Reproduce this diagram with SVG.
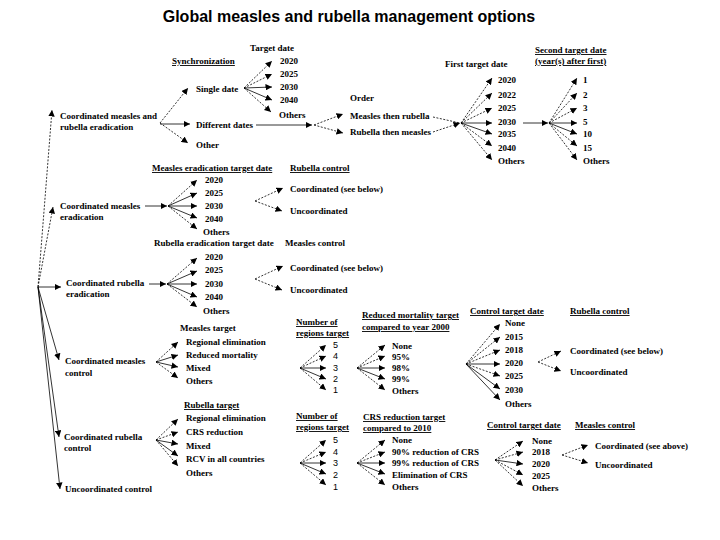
<svg xmlns="http://www.w3.org/2000/svg" width="720" height="540" viewBox="0 0 720 540">
<defs>
<marker id="a" viewBox="0 0 10 10" refX="10" refY="5" markerWidth="6.5" markerHeight="6.5" markerUnits="userSpaceOnUse" orient="auto"><path d="M0,0 L10,5 L0,10 z" fill="#000"/></marker>
<style>
.t{font-family:"Liberation Serif","Times New Roman",serif;font-size:9px;font-weight:bold;fill:#000}
.n{font-family:"Liberation Sans",Arial,sans-serif;font-size:9px;fill:#000}
.u{text-decoration:underline}
.title{font-family:"Liberation Sans",Arial,sans-serif;font-size:16px;font-weight:bold;fill:#000}
#connectors line{stroke:#000;stroke-width:0.8;marker-end:url(#a)}
#connectors line.d{stroke-dasharray:2 1.5}
#connectors line.nm{marker-end:none}
</style>
</defs>
<rect width="720" height="540" fill="#fff"/>
<text class="title" x="349" y="22" text-anchor="middle">Global measles and rubella management options</text>

<g id="connectors">
<!-- root -->
<line class="d" x1="38" y1="287" x2="52" y2="110"/>
<line class="d" x1="38" y1="287" x2="53" y2="207"/>
<line x1="38" y1="287" x2="61" y2="287"/>
<line x1="38" y1="287" x2="59" y2="360"/>
<line x1="38" y1="287" x2="59" y2="437"/>
<line x1="38" y1="287" x2="60" y2="489"/>
<!-- section 1 -->
<line class="d" x1="160" y1="123" x2="188" y2="88"/>
<line x1="160" y1="124" x2="190" y2="124"/>
<line class="d" x1="160" y1="123" x2="188" y2="143"/>
<line class="d" x1="244" y1="88" x2="272" y2="61"/>
<line class="d" x1="244" y1="88" x2="272" y2="74"/>
<line x1="244" y1="88" x2="272" y2="87"/>
<line x1="244" y1="88" x2="272" y2="100"/>
<line class="d" x1="244" y1="88" x2="271" y2="112"/>
<line x1="256" y1="125" x2="312" y2="125"/>
<line class="d" x1="314" y1="125" x2="343" y2="114"/>
<line class="d" x1="314" y1="125" x2="343" y2="133"/>
<line class="d nm" x1="433" y1="117" x2="460" y2="123"/>
<line class="d" x1="433" y1="132" x2="460" y2="123"/>
<line class="d" x1="461" y1="123" x2="492" y2="78"/>
<line class="d" x1="461" y1="123" x2="492" y2="93"/>
<line class="d" x1="461" y1="123" x2="492" y2="108"/>
<line x1="461" y1="123" x2="492" y2="123"/>
<line x1="461" y1="123" x2="492" y2="134"/>
<line class="d" x1="461" y1="123" x2="492" y2="146"/>
<line class="d" x1="461" y1="123" x2="492" y2="160"/>
<line x1="523" y1="123" x2="548" y2="123"/>
<line class="d" x1="549" y1="123" x2="577" y2="78"/>
<line class="d" x1="549" y1="123" x2="577" y2="93"/>
<line class="d" x1="549" y1="123" x2="577" y2="108"/>
<line x1="549" y1="123" x2="577" y2="123"/>
<line x1="549" y1="123" x2="577" y2="134"/>
<line class="d" x1="549" y1="123" x2="577" y2="146"/>
<line class="d" x1="549" y1="123" x2="577" y2="160"/>
<!-- section 2 -->
<line x1="145" y1="206" x2="167" y2="206"/>
<line class="d" x1="168" y1="206" x2="197" y2="180"/>
<line x1="168" y1="206" x2="197" y2="193"/>
<line x1="168" y1="206" x2="197" y2="206"/>
<line x1="168" y1="206" x2="197" y2="218"/>
<line class="d" x1="168" y1="206" x2="197" y2="229"/>
<line class="d" x1="255" y1="201" x2="283" y2="188"/>
<line class="d" x1="255" y1="201" x2="282" y2="211"/>
<!-- section 3 -->
<line x1="149" y1="284" x2="166" y2="284"/>
<line class="d" x1="167" y1="284" x2="197" y2="258"/>
<line x1="167" y1="284" x2="197" y2="271"/>
<line x1="167" y1="284" x2="197" y2="284"/>
<line x1="167" y1="284" x2="197" y2="297"/>
<line class="d" x1="167" y1="284" x2="197" y2="307"/>
<line class="d" x1="255" y1="279" x2="283" y2="266"/>
<line class="d" x1="255" y1="279" x2="282" y2="290"/>
<!-- section 4 -->
<line class="d" x1="156" y1="362" x2="178" y2="342"/>
<line x1="156" y1="362" x2="178" y2="355"/>
<line x1="156" y1="362" x2="178" y2="367"/>
<line class="d" x1="156" y1="362" x2="178" y2="378"/>
<line class="d" x1="300" y1="368" x2="326" y2="345"/>
<line class="d" x1="300" y1="368" x2="326" y2="356"/>
<line x1="300" y1="368" x2="326" y2="368"/>
<line x1="300" y1="368" x2="326" y2="379"/>
<line class="d" x1="300" y1="368" x2="326" y2="390"/>
<line class="d" x1="357" y1="368" x2="385" y2="345"/>
<line class="d" x1="357" y1="368" x2="385" y2="356"/>
<line x1="357" y1="368" x2="385" y2="368"/>
<line x1="357" y1="368" x2="385" y2="379"/>
<line class="d" x1="357" y1="368" x2="385" y2="390"/>
<line class="d" x1="466" y1="364" x2="500" y2="324"/>
<line class="d" x1="466" y1="364" x2="500" y2="337"/>
<line class="d" x1="466" y1="364" x2="500" y2="350"/>
<line x1="466" y1="364" x2="500" y2="364"/>
<line class="d" x1="466" y1="364" x2="500" y2="376"/>
<line x1="466" y1="364" x2="500" y2="389"/>
<line x1="466" y1="364" x2="500" y2="400"/>
<line class="d" x1="538" y1="362" x2="561" y2="351"/>
<line class="d" x1="538" y1="362" x2="561" y2="371"/>
<!-- section 5 -->
<line class="d" x1="156" y1="440" x2="178" y2="419"/>
<line class="d" x1="156" y1="440" x2="178" y2="432"/>
<line x1="156" y1="440" x2="178" y2="444"/>
<line x1="156" y1="440" x2="178" y2="456"/>
<line class="d" x1="156" y1="440" x2="178" y2="466"/>
<line class="d" x1="300" y1="463" x2="326" y2="440"/>
<line class="d" x1="300" y1="463" x2="326" y2="452"/>
<line x1="300" y1="463" x2="326" y2="463"/>
<line x1="300" y1="463" x2="326" y2="474"/>
<line class="d" x1="300" y1="463" x2="326" y2="485"/>
<line class="d" x1="357" y1="463" x2="385" y2="440"/>
<line class="d" x1="357" y1="463" x2="385" y2="452"/>
<line x1="357" y1="463" x2="385" y2="463"/>
<line x1="357" y1="463" x2="385" y2="474"/>
<line class="d" x1="357" y1="463" x2="385" y2="485"/>
<line class="d" x1="495" y1="460" x2="523" y2="441"/>
<line class="d" x1="495" y1="460" x2="523" y2="452"/>
<line x1="495" y1="460" x2="523" y2="464"/>
<line class="d" x1="495" y1="460" x2="523" y2="475"/>
<line class="d" x1="495" y1="460" x2="523" y2="486"/>
<line class="d" x1="562" y1="455" x2="588" y2="445"/>
<line class="d" x1="562" y1="455" x2="588" y2="463"/>
</g>

<g id="cmr-erad"><text class="t" x="60" y="119">Coordinated measles and</text><text class="t" x="60" y="130">rubella eradication</text></g>
<g id="sync"><text class="t u" x="172" y="64">Synchronization</text></g>
<g id="single-date"><text class="t" x="196" y="92">Single date</text></g>
<g id="different-dates"><text class="t" x="196" y="128">Different dates</text></g>
<g id="other"><text class="t" x="196" y="148">Other</text></g>
<g id="target-date"><text class="t" x="250" y="51">Target date</text>
<text class="t" x="280" y="64">2020</text><text class="t" x="280" y="77">2025</text><text class="t" x="280" y="90">2030</text><text class="t" x="280" y="103">2040</text><text class="t" x="279" y="118">Others</text></g>
<g id="order"><text class="t" x="350" y="101">Order</text><text class="t" x="350" y="119">Measles then rubella</text><text class="t" x="350" y="135">Rubella then measles</text></g>
<g id="first-target"><text class="t" x="445" y="67">First target date</text>
<text class="t" x="498" y="83">2020</text><text class="t" x="498" y="98">2022</text><text class="t" x="498" y="111">2025</text><text class="t" x="498" y="125">2030</text><text class="t" x="498" y="137">2035</text><text class="t" x="498" y="151">2040</text><text class="t" x="498" y="164">Others</text></g>
<g id="second-target"><text class="t u" x="535" y="53">Second target date</text><text class="t u" x="535" y="64">(year(s) after first)</text>
<text class="t" x="583" y="83">1</text><text class="t" x="583" y="98">2</text><text class="t" x="583" y="111">3</text><text class="t" x="583" y="125">5</text><text class="t" x="583" y="137">10</text><text class="t" x="583" y="151">15</text><text class="t" x="583" y="164">Others</text></g>

<g id="cm-erad"><text class="t" x="60" y="209">Coordinated measles</text><text class="t" x="60" y="220">eradication</text></g>
<g id="measles-erad-date"><text class="t u" x="152" y="171">Measles eradication target date</text>
<text class="t" x="205" y="183">2020</text><text class="t" x="205" y="196">2025</text><text class="t" x="205" y="209">2030</text><text class="t" x="205" y="222">2040</text><text class="t" x="203" y="235">Others</text></g>
<g id="rubella-control-1"><text class="t u" x="290" y="171">Rubella control</text><text class="t" x="290" y="192">Coordinated (see below)</text><text class="t" x="290" y="214">Uncoordinated</text></g>

<g id="cr-erad"><text class="t" x="66" y="286">Coordinated rubella</text><text class="t" x="66" y="297">eradication</text></g>
<g id="rubella-erad-date"><text class="t" x="154" y="246">Rubella eradication target date</text>
<text class="t" x="205" y="260">2020</text><text class="t" x="205" y="273">2025</text><text class="t" x="205" y="287">2030</text><text class="t" x="205" y="300">2040</text><text class="t" x="203" y="314">Others</text></g>
<g id="measles-control-1"><text class="t" x="285" y="246">Measles control</text><text class="t" x="290" y="271">Coordinated (see below)</text><text class="t" x="290" y="293">Uncoordinated</text></g>

<g id="cm-control"><text class="t" x="65" y="364">Coordinated measles</text><text class="t" x="65" y="376">control</text></g>
<g id="measles-target"><text class="t" x="180" y="331">Measles target</text>
<text class="t" x="186" y="345">Regional elimination</text><text class="t" x="186" y="358">Reduced mortality</text><text class="t" x="186" y="371">Mixed</text><text class="t" x="186" y="384">Others</text></g>
<g id="regions-1"><text class="t u" x="296" y="325">Number of</text><text class="t u" x="296" y="336">regions target</text>
<text class="n" x="333" y="348">5</text><text class="n" x="333" y="359">4</text><text class="n" x="333" y="371">3</text><text class="n" x="333" y="382">2</text><text class="n" x="333" y="393">1</text></g>
<g id="mortality"><text class="t u" x="362" y="318">Reduced mortality target</text><text class="t u" x="362" y="330">compared to year 2000</text>
<text class="t" x="392" y="349">None</text><text class="t" x="392" y="360">95%</text><text class="t" x="392" y="371">98%</text><text class="t" x="392" y="382">99%</text><text class="t" x="392" y="394">Others</text></g>
<g id="control-date-1"><text class="t u" x="470" y="314">Control target date</text>
<text class="t" x="505" y="326">None</text><text class="t" x="505" y="340">2015</text><text class="t" x="505" y="353">2018</text><text class="t" x="505" y="366">2020</text><text class="t" x="505" y="379">2025</text><text class="t" x="505" y="393">2030</text><text class="t" x="505" y="407">Others</text></g>
<g id="rubella-control-2"><text class="t u" x="570" y="314">Rubella control</text><text class="t" x="570" y="354">Coordinated (see below)</text><text class="t" x="570" y="375">Uncoordinated</text></g>

<g id="cr-control"><text class="t" x="64" y="440">Coordinated rubella</text><text class="t" x="64" y="451">control</text></g>
<g id="rubella-target"><text class="t u" x="184" y="408">Rubella target</text>
<text class="t" x="186" y="421">Regional elimination</text><text class="t" x="186" y="435">CRS reduction</text><text class="t" x="186" y="449">Mixed</text><text class="t" x="186" y="462">RCV in all countries</text><text class="t" x="186" y="476">Others</text></g>
<g id="regions-2"><text class="t u" x="296" y="419">Number of</text><text class="t u" x="296" y="430">regions target</text>
<text class="n" x="333" y="443">5</text><text class="n" x="333" y="455">4</text><text class="n" x="333" y="466">3</text><text class="n" x="333" y="478">2</text><text class="n" x="333" y="490">1</text></g>
<g id="crs"><text class="t u" x="363" y="420">CRS reduction target</text><text class="t u" x="363" y="431">compared to 2010</text>
<text class="t" x="392" y="443">None</text><text class="t" x="392" y="455">90% reduction of CRS</text><text class="t" x="392" y="466">99% reduction of CRS</text><text class="t" x="392" y="478">Elimination of CRS</text><text class="t" x="392" y="490">Others</text></g>
<g id="control-date-2"><text class="t u" x="487" y="428">Control target date</text>
<text class="t" x="532" y="444">None</text><text class="t" x="532" y="455">2018</text><text class="t" x="532" y="467">2020</text><text class="t" x="532" y="479">2025</text><text class="t" x="532" y="491">Others</text></g>
<g id="measles-control-2"><text class="t u" x="575" y="428">Measles control</text><text class="t" x="595" y="449">Coordinated (see above)</text><text class="t" x="595" y="468">Uncoordinated</text></g>

<g id="uncoord-control"><text class="t" x="65" y="492">Uncoordinated control</text></g>
</svg>
